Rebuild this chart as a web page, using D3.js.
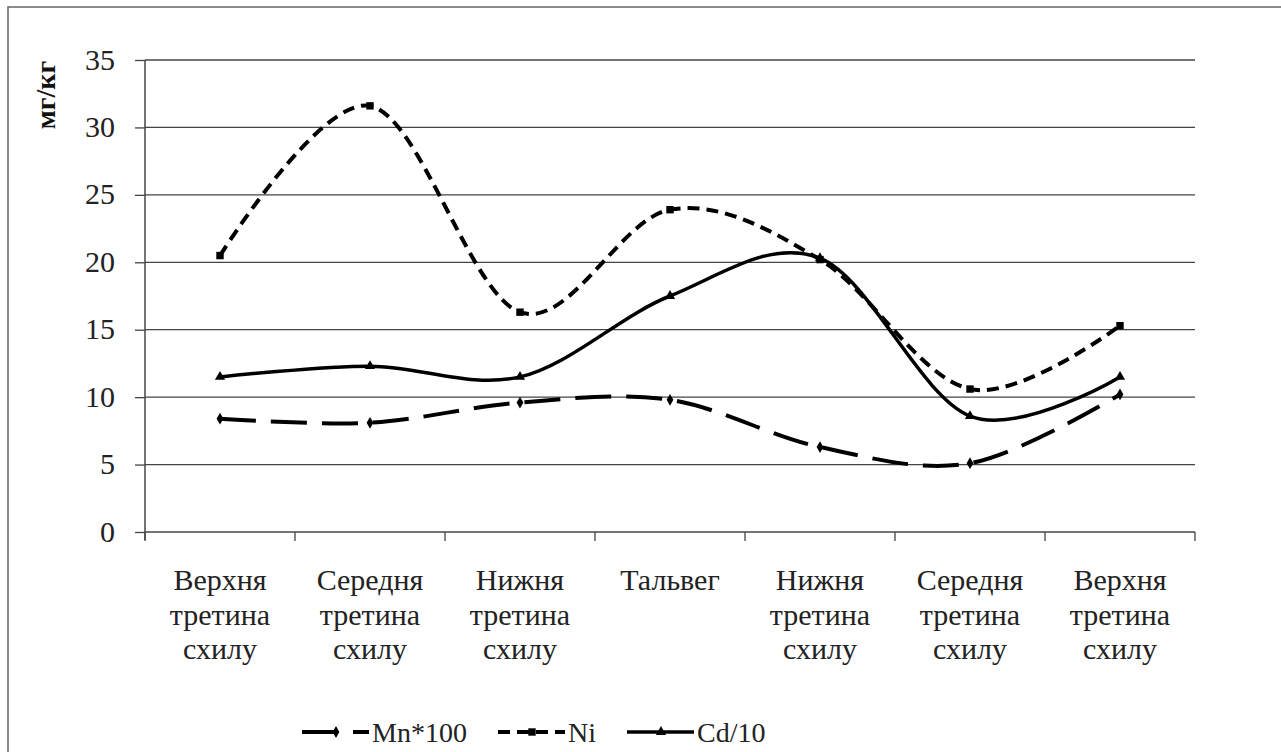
<!DOCTYPE html>
<html>
<head>
<meta charset="utf-8">
<script src="https://cdn.jsdelivr.net/npm/d3@7"></script>
<style>
  html, body { margin: 0; padding: 0; background: #fff; }
  svg { display: block; }
  svg text, svg tspan { font-family: "Liberation Serif", serif !important; }
</style>
</head>
<body>
<svg id="chart" width="1281" height="752"></svg>
<script>
const categories = [
  ["Верхня", "третина", "схилу"],
  ["Середня", "третина", "схилу"],
  ["Нижня", "третина", "схилу"],
  ["Тальвег"],
  ["Нижня", "третина", "схилу"],
  ["Середня", "третина", "схилу"],
  ["Верхня", "третина", "схилу"]
];
const mnValues = [8.4, 8.1, 9.6, 9.8, 6.3, 5.1, 10.2];
const niValues = [20.5, 31.6, 16.3, 23.9, 20.2, 10.6, 15.3];
const cdValues = [11.5, 12.3, 11.5, 17.5, 20.3, 8.6, 11.5];
const yTicks = [0, 5, 10, 15, 20, 25, 30, 35];
const seriesNames = ["Mn*100", "Ni", "Cd/10"];
const yTitle = "мг/кг";

const FONT = "Liberation Serif";
const TXT = "#222";
const svg = d3.select("#chart");

// outer frame
svg.append("rect").attr("x", 8).attr("y", 7).attr("width", 1290).attr("height", 760)
  .attr("fill", "none").attr("stroke", "#666").attr("stroke-width", 1.5);

const pLeft = 145, pRight = 1195, pTop = 60, pBottom = 532;
const idx = categories.map((d, i) => i);
const x = d3.scaleBand().domain(idx).range([pLeft, pRight]).padding(0);
const y = d3.scaleLinear().domain([0, 35]).range([pBottom, pTop]);
const cx = i => x(i) + x.bandwidth() / 2;

// gridlines
svg.append("g").selectAll("line").data(yTicks.filter(t => t > 0)).join("line")
  .attr("x1", pLeft).attr("x2", pRight)
  .attr("y1", d => y(d)).attr("y2", d => y(d))
  .attr("stroke", "#444").attr("stroke-width", 1.3);

// y axis
const yAxis = svg.append("g").attr("transform", `translate(${pLeft},0)`)
  .call(d3.axisLeft(y).tickValues(yTicks).tickSize(10).tickPadding(20).tickFormat(d3.format("d")));
yAxis.attr("font-family", FONT).attr("font-size", 30);
yAxis.select(".domain").attr("stroke", "#444").attr("stroke-width", 1.5).attr("d", `M0,${pTop}V${pBottom + 8}`);
yAxis.selectAll(".tick line").attr("stroke", "#444").attr("stroke-width", 1.3);
yAxis.selectAll(".tick text").style("font-size", "30px").style("font-family", FONT).attr("fill", TXT)
  .attr("dy", "0.3em");

// x axis
const xAxis = svg.append("g").attr("transform", `translate(0,${pBottom})`);
xAxis.append("line").attr("x1", pLeft).attr("x2", pRight).attr("y1", 0).attr("y2", 0)
  .attr("stroke", "#444").attr("stroke-width", 1.5);
const bounds = idx.map(i => x(i)).concat([x(idx[idx.length - 1]) + x.bandwidth()]);
xAxis.selectAll("line.tk").data(bounds).join("line").attr("class", "tk")
  .attr("x1", d => d).attr("x2", d => d).attr("y1", 0).attr("y2", 9)
  .attr("stroke", "#444").attr("stroke-width", 1.3);

const labelG = svg.append("g");
categories.forEach((lines, i) => {
  const t = labelG.append("text").attr("text-anchor", "middle").style("font-size", "30px")
    .style("font-family", FONT).attr("fill", TXT);
  lines.forEach((ln, k) => {
    t.append("tspan").attr("x", cx(i)).attr("y", 590 + k * 34.5).text(ln);
  });
});

// y title
svg.append("text").attr("transform", "translate(55,95) rotate(-90)")
  .attr("text-anchor", "middle").style("font-family", FONT)
  .style("font-size", "28px").attr("font-weight", "bold").attr("fill", "#111").text(yTitle);

// lines
const lineGen = d3.line().x((d, i) => cx(i)).y(d => y(d)).curve(d3.curveCatmullRom.alpha(0));
const styles = [
  { vals: mnValues, dash: "36,15", width: 4, marker: d3.symbolDiamond, msize: 40 },
  { vals: niValues, dash: "12,7", width: 4, marker: d3.symbolSquare, msize: 55 },
  { vals: cdValues, dash: null, width: 3.5, marker: d3.symbolTriangle, msize: 45 }
];
styles.forEach(s => {
  svg.append("path").datum(s.vals).attr("d", lineGen)
    .attr("fill", "none").attr("stroke", "#000").attr("stroke-width", s.width)
    .attr("stroke-dasharray", s.dash).attr("stroke-linecap", "butt");
  svg.append("g").selectAll("path").data(s.vals).join("path")
    .attr("transform", (d, i) => `translate(${cx(i)},${y(d)})`)
    .attr("d", d3.symbol().type(s.marker).size(s.msize)).attr("fill", "#000");
});

// legend
const legendX = [302, 498, 627];
const legY = 732;
styles.forEach((s, k) => {
  const g = svg.append("g").attr("transform", `translate(${legendX[k]},${legY})`);
  g.append("line").attr("x1", 0).attr("x2", 67).attr("y1", 0).attr("y2", 0)
    .attr("stroke", "#000").attr("stroke-width", s.width).attr("stroke-dasharray", s.dash);
  g.append("path").attr("transform", "translate(34,0)")
    .attr("d", d3.symbol().type(s.marker).size(s.msize)).attr("fill", "#000");
  g.append("text").attr("x", 70).attr("y", 10).style("font-family", FONT)
    .style("font-size", "28px").attr("fill", TXT).text(seriesNames[k]);
});
</script>
</body>
</html>
